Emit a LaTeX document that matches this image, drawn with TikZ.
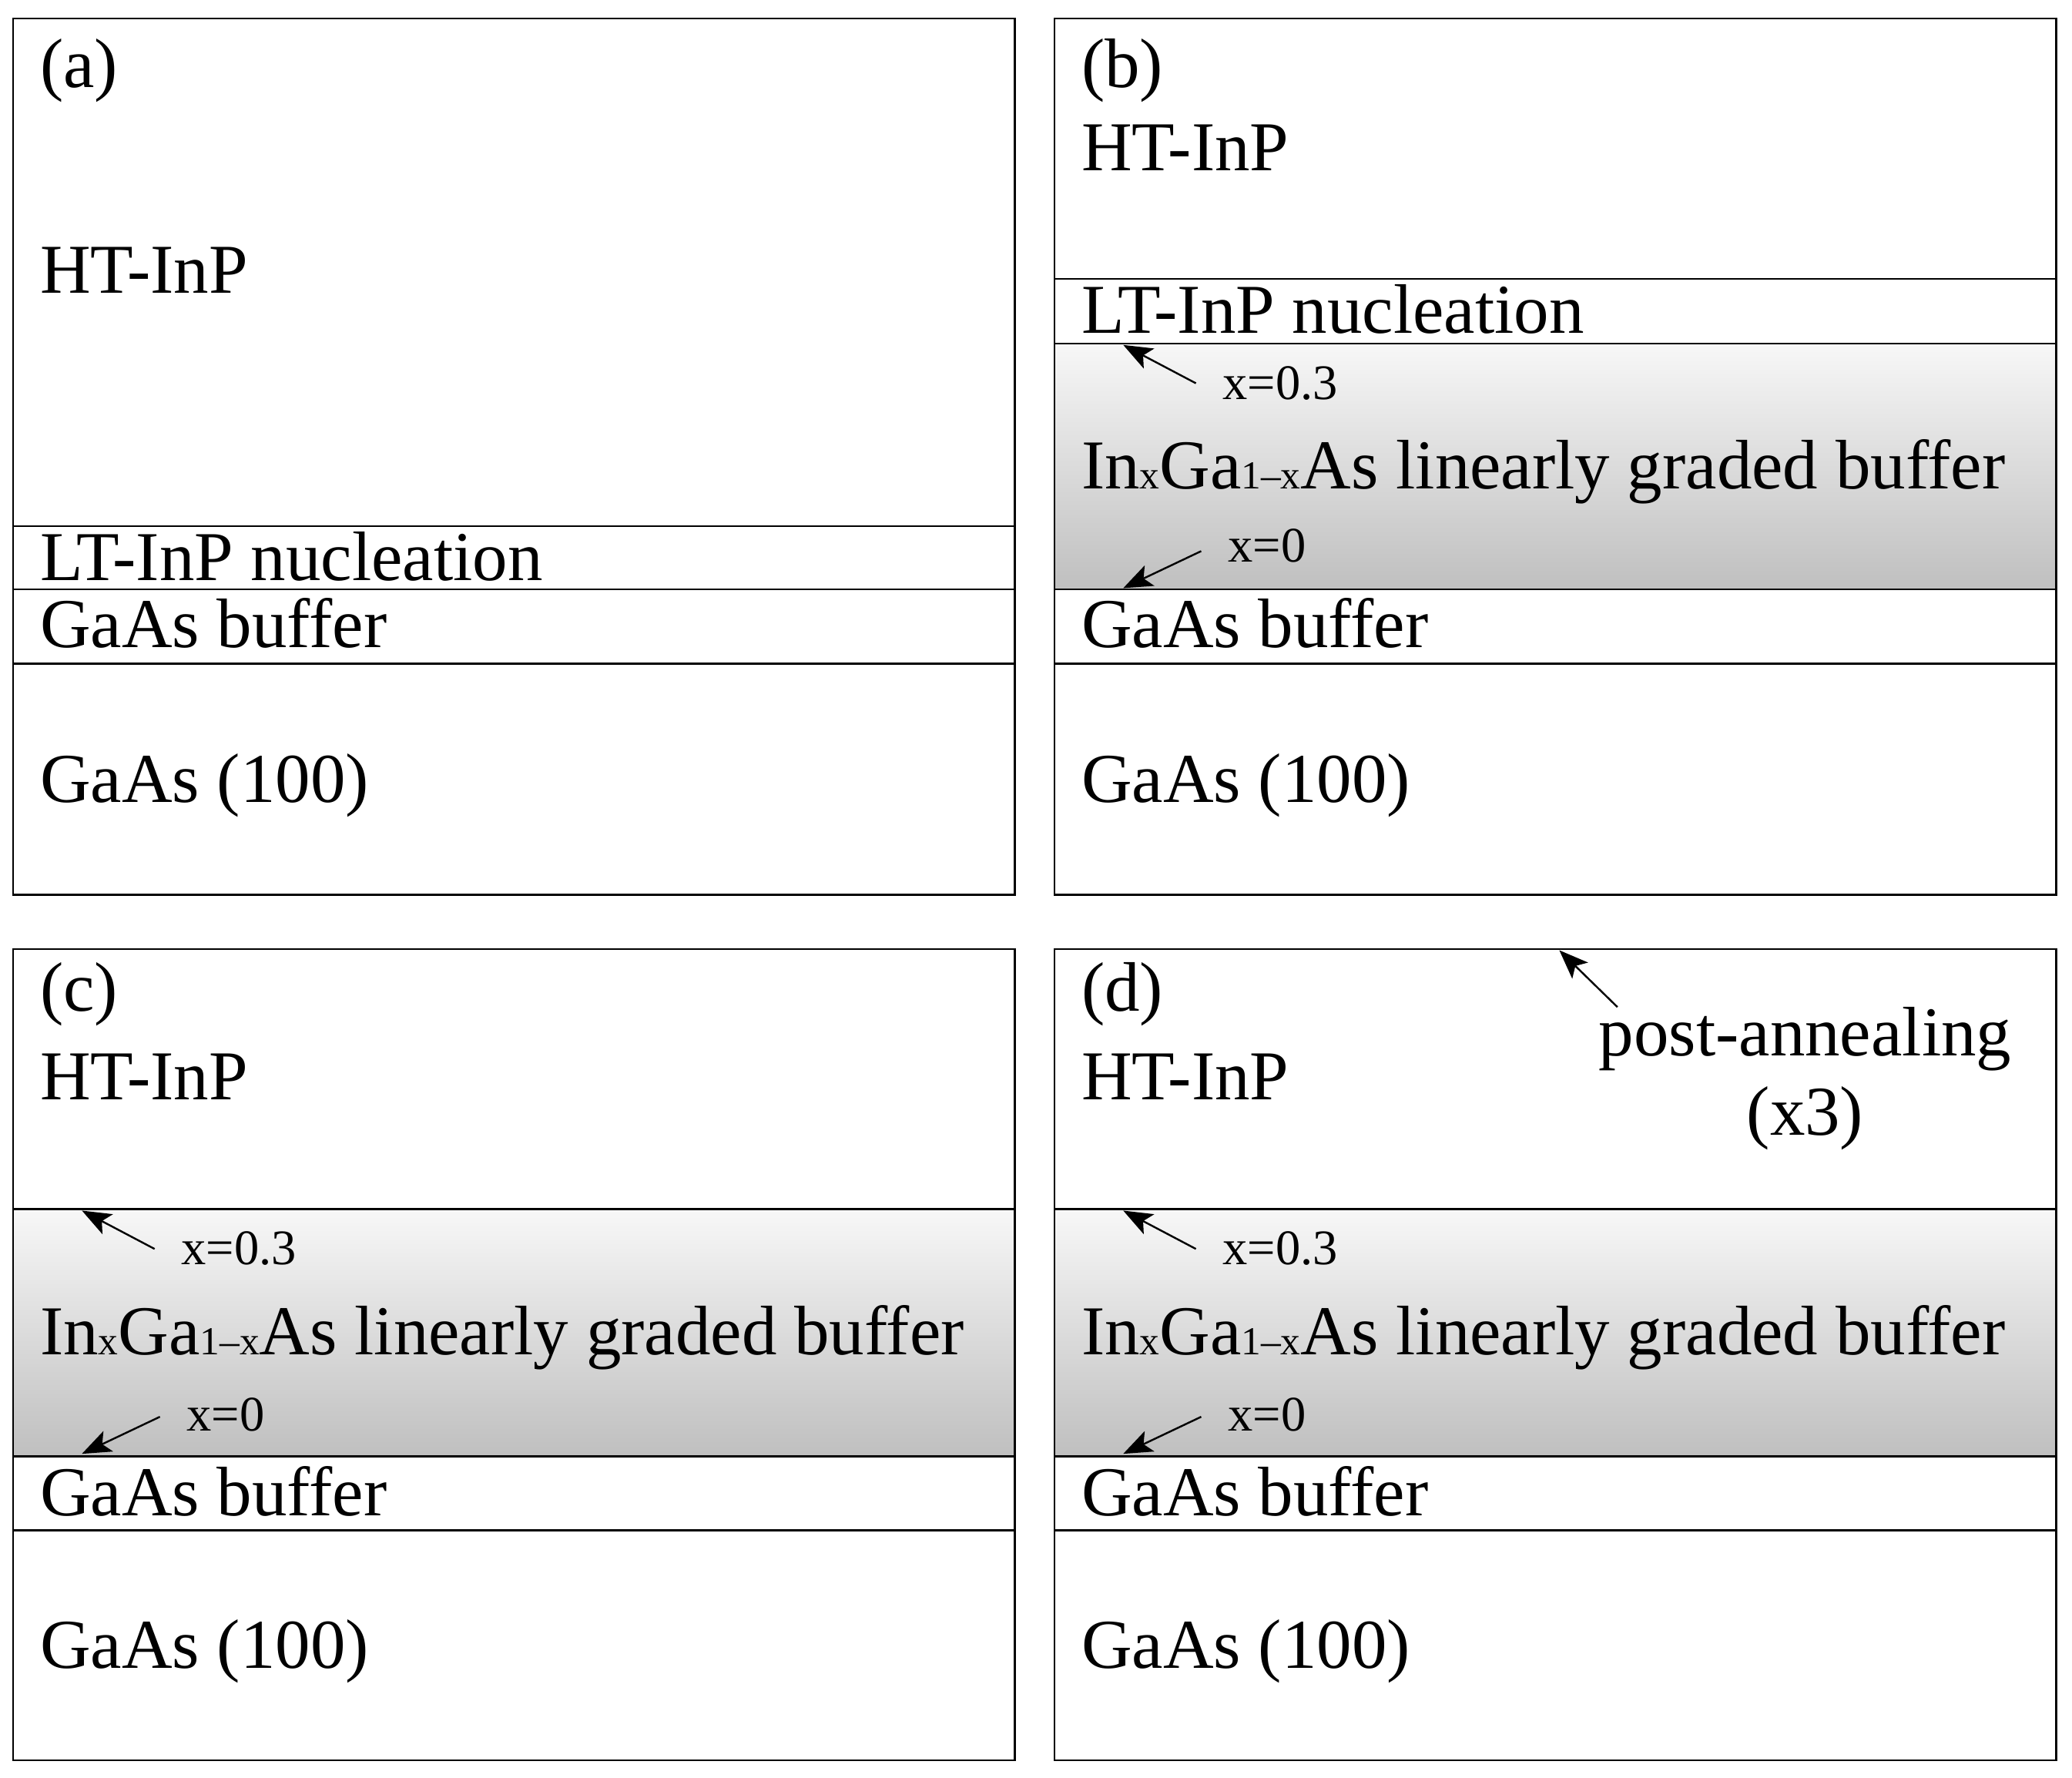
\documentclass[tikz,border=0pt]{standalone}
\usepackage{fontspec}
\setmainfont{Liberation Serif}
\usetikzlibrary{arrows.meta}
\tikzset{
  frame/.style={draw, line width=0.75pt},
  sep/.style={line width=0.75pt},
  lbl/.style={anchor=base west, inner sep=0pt, font=\fontsize{26.5}{30}\selectfont},
  clbl/.style={anchor=base, inner sep=0pt, font=\fontsize{26.5}{30}\selectfont},
  smalllbl/.style={anchor=base west, inner sep=0pt, font=\fontsize{18.8}{22}\selectfont},
  arr/.style={-{Stealth[length=11pt,width=8.5pt,inset=2.5pt]}, line width=0.7pt},
  graded/.style={top color=black!3, bottom color=black!25, draw=none}
}
\newcommand{\sbx}[1]{{\fontsize{15}{17}\selectfont #1}}
\begin{document}
\begin{tikzpicture}[x=0.5pt, y=-0.5pt]
\useasboundingbox (0,0) rectangle (1568,1345);
% gradient layers
\fill[graded] (798,260) rectangle (1556,446);
\fill[graded] (10,915) rectangle (768,1102);
\fill[graded] (798,915) rectangle (1556,1102);
% panel a
\draw[frame] (10,14) rectangle (768,677);
\draw[sep] (10,398) -- (768,398);
\draw[sep] (10,446) -- (768,446);
\draw[sep] (10,502) -- (768,502);
\node[lbl] (a-tag) at (30,66) {(a)};
\node[lbl] (a-ht) at (30,222) {HT-InP};
\node[lbl] (a-lt) at (30,439) {LT-InP nucleation};
\node[lbl] (a-buf) at (30,490) {GaAs buffer};
\node[lbl] (a-sub) at (30,607) {GaAs (100)};
% panel b
\draw[frame] (798,14) rectangle (1556,677);
\draw[sep] (798,211) -- (1556,211);
\draw[sep] (798,260) -- (1556,260);
\draw[sep] (798,446) -- (1556,446);
\draw[sep] (798,502) -- (1556,502);
\node[lbl] (b-tag) at (818,66) {(b)};
\node[lbl] (b-ht) at (818,129) {HT-InP};
\node[lbl] (b-lt) at (818,252) {LT-InP nucleation};
\node[smalllbl] (b-x3) at (925,302) {x=0.3};
\node[lbl] (b-gr) at (818,370) {In\sbx{x}Ga\sbx{1–x}As linearly graded buffer};
\node[smalllbl] (b-x0) at (929,425) {x=0};
\node[lbl] (b-buf) at (818,490) {GaAs buffer};
\node[lbl] (b-sub) at (818,607) {GaAs (100)};
\coordinate (b-x3s) at (905,290); \coordinate (b-x3e) at (850,261);
\coordinate (b-x0s) at (909,417); \coordinate (b-x0e) at (850,445);
\draw[arr] (b-x3s) -- (b-x3e);
\draw[arr] (b-x0s) -- (b-x0e);
% panel c
\draw[frame] (10,718) rectangle (768,1332);
\draw[sep] (10,915) -- (768,915);
\draw[sep] (10,1102) -- (768,1102);
\draw[sep] (10,1158) -- (768,1158);
\node[lbl] (c-tag) at (30,765) {(c)};
\node[lbl] (c-ht) at (30,832) {HT-InP};
\node[smalllbl] (c-x3) at (137,957) {x=0.3};
\node[lbl] (c-gr) at (30,1025) {In\sbx{x}Ga\sbx{1–x}As linearly graded buffer};
\node[smalllbl] (c-x0) at (141,1083) {x=0};
\node[lbl] (c-buf) at (30,1147) {GaAs buffer};
\node[lbl] (c-sub) at (30,1262) {GaAs (100)};
\coordinate (c-x3s) at (117,945); \coordinate (c-x3e) at (62,916);
\coordinate (c-x0s) at (121,1072); \coordinate (c-x0e) at (62,1100);
\draw[arr] (c-x3s) -- (c-x3e);
\draw[arr] (c-x0s) -- (c-x0e);
% panel d
\draw[frame] (798,718) rectangle (1556,1332);
\draw[sep] (798,915) -- (1556,915);
\draw[sep] (798,1102) -- (1556,1102);
\draw[sep] (798,1158) -- (1556,1158);
\node[lbl] (d-tag) at (818,765) {(d)};
\node[lbl] (d-ht) at (818,832) {HT-InP};
\node[clbl] (d-pa) at (1366,799) {post-annealing};
\node[clbl] (d-x3t) at (1366,859) {(x3)};
\node[smalllbl] (d-x3) at (925,957) {x=0.3};
\node[lbl] (d-gr) at (818,1025) {In\sbx{x}Ga\sbx{1–x}As linearly graded buffer};
\node[smalllbl] (d-x0) at (929,1083) {x=0};
\node[lbl] (d-buf) at (818,1147) {GaAs buffer};
\node[lbl] (d-sub) at (818,1262) {GaAs (100)};
\coordinate (d-x3s) at (905,945); \coordinate (d-x3e) at (850,916);
\coordinate (d-x0s) at (909,1072); \coordinate (d-x0e) at (850,1100);
\coordinate (d-pas) at (1224,762); \coordinate (d-pae) at (1180,719);
\draw[arr] (d-x3s) -- (d-x3e);
\draw[arr] (d-x0s) -- (d-x0e);
\draw[arr] (d-pas) -- (d-pae);
\end{tikzpicture}
\end{document}
